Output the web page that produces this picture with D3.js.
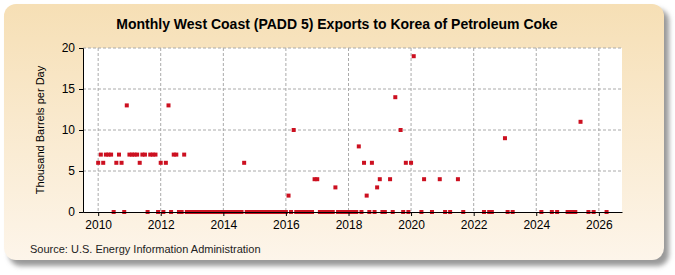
<!DOCTYPE html>
<html>
<head>
<meta charset="utf-8">
<script src="https://cdn.jsdelivr.net/npm/d3@7"></script>
<style>
  body { margin: 0; background: #fff; }
  svg { display: block; font-family: "Liberation Sans", Arial, sans-serif; }
</style>
</head>
<body>
<svg id="chart"></svg>
<script>
const months = [
  "2010-01","2010-02","2010-03","2010-04","2010-05","2010-06","2010-07","2010-08","2010-09","2010-10","2010-11","2010-12",
  "2011-01","2011-02","2011-03","2011-04","2011-05","2011-06","2011-07","2011-08","2011-09","2011-10","2011-11","2011-12",
  "2012-01","2012-02","2012-03","2012-04","2012-05","2012-06","2012-07","2012-08","2012-09","2012-10","2012-11","2012-12",
  "2013-01","2013-02","2013-03","2013-04","2013-05","2013-06","2013-07","2013-08","2013-09","2013-10","2013-11","2013-12",
  "2014-01","2014-02","2014-03","2014-04","2014-05","2014-06","2014-07","2014-08","2014-09","2014-10","2014-11","2014-12",
  "2015-01","2015-02","2015-03","2015-04","2015-05","2015-06","2015-07","2015-08","2015-09","2015-10","2015-11","2015-12",
  "2016-01","2016-02","2016-03","2016-04","2016-05","2016-06","2016-07","2016-08","2016-09","2016-10","2016-11","2016-12",
  "2017-01","2017-02","2017-03","2017-04","2017-05","2017-06","2017-07","2017-08","2017-09","2017-10","2017-11","2017-12",
  "2018-01","2018-02","2018-03","2018-04","2018-05","2018-06","2018-07","2018-08","2018-09","2018-10","2018-11","2018-12",
  "2019-01","2019-02","2019-03","2019-05","2019-06","2019-07","2019-09","2019-10","2019-11","2019-12",
  "2020-01","2020-02","2020-05","2020-06","2020-09","2020-12",
  "2021-02","2021-04","2021-07","2021-09",
  "2022-05","2022-07","2022-08",
  "2023-01","2023-02","2023-04",
  "2024-03","2024-07","2024-09",
  "2025-01","2025-02","2025-03","2025-04","2025-06","2025-09","2025-11",
  "2026-04"
];
const values = [
  6,7,6,7,7,7,0,6,7,6,0,13,
  7,7,7,7,6,7,7,0,7,7,7,0,
  6,0,6,13,0,7,7,0,0,7,0,0,
  0,0,0,0,0,0,0,0,0,0,0,0,
  0,0,0,0,0,0,0,0,6,0,0,0,
  0,0,0,0,0,0,0,0,0,0,0,0,
  0,2,0,10,0,0,0,0,0,0,0,4,
  4,0,0,0,0,0,0,3,0,0,0,0,
  0,0,0,0,8,0,6,2,0,6,0,3,
  4,0,0,4,0,14,10,0,6,0,
  6,19,0,4,0,4,
  0,0,4,0,
  0,0,0,
  9,0,0,
  0,0,0,
  0,0,0,0,11,0,0,
  0
];
const yTicks = [0, 5, 10, 15, 20];
const xTickYears = [2010, 2012, 2014, 2016, 2018, 2020, 2022, 2024, 2026];

const width = 675, height = 275;
const plot = { left: 83, right: 622, top: 48, bottom: 212 };

const svg = d3.select("#chart").attr("width", width).attr("height", height);

const defs = svg.append("defs");
const bg = defs.append("linearGradient").attr("id", "bg").attr("x1", 0).attr("y1", 0).attr("x2", 0).attr("y2", 1);
bg.append("stop").attr("offset", "0%").attr("stop-color", "#f6dfb5");
bg.append("stop").attr("offset", "100%").attr("stop-color", "#fdf5ea");
const blur = defs.append("filter").attr("id", "shadow").attr("x", "-5%").attr("y", "-5%").attr("width", "115%").attr("height", "120%");
blur.append("feGaussianBlur").attr("stdDeviation", 2.5);

// frame
svg.append("rect").attr("x", 9).attr("y", 9).attr("width", 660).attr("height", 257)
   .attr("rx", 12).attr("fill", "#9a9a9a").attr("filter", "url(#shadow)");
svg.append("rect").attr("x", 4).attr("y", 4).attr("width", 660).attr("height", 256)
   .attr("rx", 12).attr("fill", "url(#bg)");

svg.append("rect").attr("x", plot.left).attr("y", plot.top)
   .attr("width", plot.right - plot.left).attr("height", plot.bottom - plot.top)
   .attr("fill", "#fff");

const x = d3.scaleTime()
  .domain([new Date(2009, 6, 8), new Date(2026, 8, 28)])
  .range([plot.left, plot.right]);
const y = d3.scaleLinear().domain([0, 20]).range([plot.bottom, plot.top]);

const parse = d3.timeParse("%Y-%m");
const data = months.map((m, i) => ({ date: parse(m), value: values[i] }));

// grid
svg.append("g").selectAll("line").data(yTicks.filter(d => d > 0)).enter().append("line")
   .attr("x1", plot.left).attr("x2", plot.right)
   .attr("y1", d => y(d)).attr("y2", d => y(d))
   .attr("stroke", "#aaa").attr("stroke-dasharray", "3,2");
svg.append("g").selectAll("line").data(xTickYears).enter().append("line")
   .attr("x1", d => x(new Date(d, 0, 1))).attr("x2", d => x(new Date(d, 0, 1)))
   .attr("y1", plot.top).attr("y2", plot.bottom)
   .attr("stroke", "#aaa").attr("stroke-dasharray", "3,2");

// points
svg.append("g").selectAll("rect").data(data).enter().append("rect")
   .attr("x", d => x(d.date) - 2).attr("y", d => y(d.value) - 2)
   .attr("width", 4).attr("height", 4)
   .attr("fill", "#cc1020");

// axes
const yAxis = d3.axisLeft(y).tickValues(yTicks).tickSize(4).tickPadding(4);
svg.append("g").attr("transform", `translate(${plot.left},0)`).call(yAxis)
   .call(g => g.select(".domain").attr("stroke", "#000"))
   .selectAll("text").attr("font-size", 12).attr("fill", "#000");

const xAxis = d3.axisBottom(x).tickValues(xTickYears.map(d => new Date(d, 0, 1)))
  .tickFormat(d3.timeFormat("%Y")).tickSize(4).tickPadding(4).tickSizeOuter(0);
svg.append("g").attr("transform", `translate(0,${plot.bottom})`).call(xAxis)
   .call(g => g.select(".domain").attr("stroke", "#000"))
   .selectAll("text").attr("font-size", 12).attr("fill", "#000");

// titles
svg.append("text").attr("x", 337).attr("y", 29).attr("text-anchor", "middle")
   .attr("font-family", "'Liberation Sans Narrow', 'Arial Narrow', sans-serif")
   .attr("font-weight", "bold").attr("font-size", 14)
   .text("Monthly West Coast (PADD 5) Exports to Korea of Petroleum Coke");

svg.append("text").attr("transform", "translate(44,130) rotate(-90)")
   .attr("text-anchor", "middle").attr("font-size", 11)
   .text("Thousand Barrels per Day");

svg.append("text").attr("x", 30).attr("y", 253)
   .attr("font-family", "'Liberation Sans Narrow', 'Arial Narrow', sans-serif")
   .attr("font-size", 11).attr("fill", "#222")
   .text("Source: U.S. Energy Information Administration");
</script>
</body>
</html>
